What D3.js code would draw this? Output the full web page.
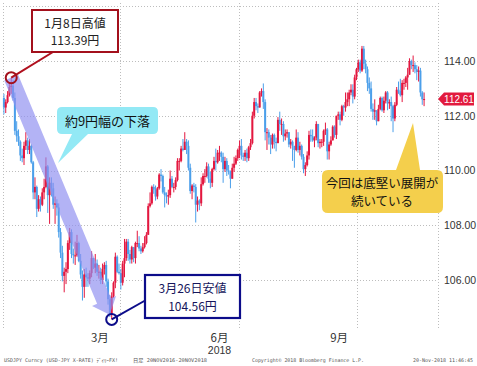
<!DOCTYPE html>
<meta charset="utf-8">
<script src="https://d3js.org/d3.v7.min.js"></script>
<style>
  body { margin: 0; background: #fff; }
</style>
<div id="chart"></div>
<script>
// USD/JPY daily, 2018-01-02 .. 2018-11-20 (trading days)
var firstOpen = 112.65;
var closes = [
  // Jan
  112.30,112.50,112.75,113.05,113.10,112.65,111.45,111.25,111.05,110.55,110.45,110.90,111.10,110.75,110.90,110.30,109.20,109.40,108.60,108.95,108.75,109.20,
  // Feb
  109.40,110.15,109.10,109.55,109.35,108.75,108.80,108.65,107.75,107.00,106.15,106.30,106.40,107.35,107.75,106.95,106.90,106.90,107.35,106.70,
  // Mar
  106.20,105.75,106.20,106.10,106.05,106.25,106.80,106.45,106.60,106.30,106.30,106.00,106.40,106.55,105.95,105.30,104.75,105.40,105.90,106.85,106.30,106.25,
  // Apr
  105.90,106.60,106.80,107.40,106.95,106.75,107.20,106.80,107.35,107.35,107.15,107.05,107.20,107.35,107.65,108.70,108.80,109.40,109.30,109.05,109.35,
  // May
  109.85,109.80,109.20,109.10,109.05,109.10,109.70,109.40,109.40,109.65,110.35,110.35,110.80,110.75,111.05,110.90,110.10,109.25,109.45,109.40,108.75,108.90,108.80,
  // Jun
  109.50,109.80,109.80,110.15,109.70,109.55,110.05,110.35,110.30,110.65,110.65,110.50,110.05,110.35,110.00,109.95,109.70,110.10,110.25,110.45,110.75,
  // Jul
  110.90,110.55,110.50,110.65,110.45,110.85,111.00,112.00,112.50,112.35,112.30,112.85,112.90,112.50,111.40,111.40,111.20,110.95,111.30,111.05,111.00,111.85,
  // Aug
  111.70,111.70,111.25,111.35,111.40,110.95,111.05,110.90,110.75,111.20,110.75,110.90,110.50,110.05,110.20,110.55,111.30,111.25,111.10,111.20,111.70,111.00,111.05,
  // Sep
  111.05,111.45,111.50,110.70,110.95,111.10,111.60,111.30,112.00,112.05,111.85,112.35,112.30,112.50,112.60,112.85,112.95,112.70,113.40,113.70,
  // Oct
  113.95,113.65,114.45,113.90,113.70,113.20,113.00,112.25,112.15,112.20,111.80,112.25,112.65,112.20,112.55,112.85,112.45,112.50,112.35,111.90,112.40,112.95,112.90,
  // Nov
  112.75,113.20,113.20,113.40,113.50,114.00,113.85,113.85,113.70,113.60,113.65,112.85,112.60,112.61
];
var highs = [
  112.80,112.60,112.90,113.20,113.39,113.30,112.85,111.80,111.50,111.10,110.80,111.05,111.40,111.20,111.15,110.95,110.35,109.75,109.45,109.10,109.05,109.35,
  109.70,110.48,110.20,109.75,109.75,109.55,109.05,108.95,108.80,107.90,107.25,106.45,106.65,107.45,107.90,107.85,107.15,107.40,107.65,107.40,
  106.95,106.35,106.40,106.45,106.25,106.35,107.05,106.80,106.95,106.75,106.55,106.45,106.60,106.65,106.70,106.05,105.45,105.55,105.95,107.00,106.90,106.60,
  106.40,106.70,107.50,107.50,107.50,107.10,107.25,107.20,107.40,107.80,107.60,107.25,107.35,107.60,107.75,108.80,109.20,109.45,109.50,109.45,109.40,
  109.90,110.05,109.85,109.40,109.20,109.30,110.00,109.80,109.55,109.75,110.45,110.45,110.90,111.15,111.40,111.15,111.10,110.25,109.50,109.55,109.50,109.05,108.95,
  109.75,109.90,110.05,110.30,110.25,109.95,110.10,110.50,110.80,110.75,110.90,110.70,110.65,110.50,110.45,110.20,110.00,110.25,110.50,110.55,110.80,
  111.10,111.15,110.65,110.75,110.80,110.90,111.15,112.15,112.65,112.65,112.45,112.90,113.00,113.18,112.60,111.55,111.50,111.30,111.35,111.35,111.20,111.95,
  112.15,111.90,111.80,111.50,111.50,111.40,111.15,111.10,110.90,111.50,111.40,111.05,110.95,110.60,110.30,110.70,111.45,111.50,111.50,111.25,111.80,111.70,111.15,
  111.15,111.50,111.75,111.55,111.05,111.25,111.65,111.65,112.00,112.15,112.15,112.40,112.40,112.85,112.85,112.95,113.15,113.15,113.50,113.75,
  114.05,114.05,114.55,114.55,114.05,113.80,113.40,113.25,112.45,112.60,112.20,112.40,112.70,112.70,112.70,112.90,112.90,112.60,112.70,112.40,112.50,113.05,113.25,
  113.35,113.30,113.35,113.45,113.75,114.10,114.05,114.20,113.95,113.85,113.80,113.75,112.90,112.85
];
var lows = [
  112.05,112.10,112.45,112.70,112.80,112.55,111.30,111.05,110.90,110.35,110.30,110.20,110.75,110.60,110.60,110.25,108.95,108.95,108.30,108.50,108.50,108.70,
  108.95,109.35,108.45,108.05,109.05,108.60,108.05,108.35,107.55,106.80,105.95,105.55,105.85,106.25,107.10,106.80,106.60,106.55,106.85,106.65,
  106.05,105.25,105.35,105.75,105.75,105.85,106.10,106.40,106.25,106.15,106.05,105.85,105.85,106.20,105.75,105.10,104.65,104.56,105.35,105.70,106.25,106.20,
  105.65,105.80,106.10,106.70,106.70,106.60,106.60,106.65,106.60,107.20,107.05,106.95,107.00,107.15,107.30,107.65,108.65,108.75,109.15,108.90,108.95,
  109.30,109.60,109.15,108.65,108.80,108.75,109.00,109.35,109.20,109.30,109.60,110.00,110.30,110.70,110.80,110.60,110.00,109.15,108.95,109.20,108.10,108.50,108.55,
  108.70,109.45,109.55,109.75,109.55,109.35,109.40,110.00,110.00,110.25,110.35,110.30,109.55,109.95,109.80,109.85,109.35,109.75,109.95,110.20,110.35,
  110.45,110.40,110.35,110.35,110.30,110.35,110.75,110.95,111.90,112.20,112.10,112.30,112.70,112.25,111.10,110.75,110.95,110.60,110.80,110.80,110.70,111.00,
  111.45,111.30,111.05,111.10,111.20,110.85,110.80,110.35,110.10,110.70,110.65,110.55,110.40,109.90,109.80,110.15,110.40,111.05,111.05,110.85,111.10,110.85,110.80,
  110.85,110.90,111.30,110.40,110.40,110.90,111.10,111.20,111.15,111.85,111.65,111.80,112.00,112.15,112.35,112.35,112.75,112.45,112.60,113.30,
  113.60,113.55,113.60,113.70,113.55,112.90,112.80,112.15,111.85,111.85,111.65,111.80,112.20,112.15,112.10,112.45,112.20,112.25,111.80,111.40,111.80,112.35,112.80,
  112.70,112.50,112.95,113.05,112.95,113.50,113.70,113.60,113.55,113.30,113.25,112.70,112.40,112.35
];

var yTicks = [106, 108, 110, 112, 114];
var yGrid = [106, 108, 110, 112, 114, 116];
var monthLabels = [{month: 2, text: "3月"}, {month: 5, text: "6月"}, {month: 8, text: "9月"}];
var quarterStarts = [3, 6, 9]; // Apr, Jul, Oct

var width = 477, height = 366;
var plot = {left: 3, right: 438, top: 3, bottom: 330};

// trading days (weekdays) of the period
var dates = d3.timeDay.range(new Date(2018, 0, 2), new Date(2018, 10, 21))
  .filter(function(d) { return d.getDay() !== 0 && d.getDay() !== 6; });

var data = dates.map(function(d, i) {
  var o = i === 0 ? firstOpen : closes[i - 1];
  return {date: d, i: i, open: o, close: closes[i], high: highs[i], low: lows[i]};
});

var svg = d3.select("#chart").append("svg")
  .attr("width", width)
  .attr("height", height)
  .style("font-family", "'Liberation Sans', Arial, sans-serif");

svg.append("rect").attr("width", width).attr("height", height).attr("fill", "#fff");

var x = d3.scaleBand()
  .domain(data.map(function(d) { return d.i; }))
  .range([3, 425]);
var step = x.step();
function cx(i) { return x(i) + step / 2; }

var y = d3.scaleLinear()
  .domain([106, 114])
  .range([280, 61]);

// grid
var grid = svg.append("g").attr("stroke", "#bdbdbd").attr("stroke-dasharray", "1,2");
grid.selectAll(".hg").data(yGrid).enter().append("line")
  .attr("x1", plot.left).attr("x2", plot.right)
  .attr("y1", function(d) { return Math.round(y(d)) + 0.5; })
  .attr("y2", function(d) { return Math.round(y(d)) + 0.5; });

function firstIndexOfMonth(m) {
  return data.find(function(d) { return d.date.getMonth() === m; }).i;
}
var vgx = [plot.left].concat(quarterStarts.map(function(m) { return x(firstIndexOfMonth(m)); }), [plot.right]);
grid.selectAll(".vg").data(vgx).enter().append("line")
  .attr("x1", function(d) { return Math.round(d) + 0.5; })
  .attr("x2", function(d) { return Math.round(d) + 0.5; })
  .attr("y1", plot.top).attr("y2", plot.bottom);

// right axis
var yAxis = svg.append("g")
  .attr("transform", "translate(" + (plot.right + 4) + ",0)")
  .call(d3.axisRight(y).tickValues(yTicks).tickSize(0).tickFormat(d3.format(".2f")));
yAxis.select(".domain").remove();
yAxis.selectAll("text")
  .attr("x", 2)
  .style("font-size", "10.5px")
  .style("font-family", "'Liberation Sans', Arial, sans-serif")
  .attr("fill", "#333");

// month labels
monthLabels.forEach(function(m) {
  var idx = data.filter(function(d) { return d.date.getMonth() === m.month; });
  var mx = (x(idx[0].i) + x(idx[idx.length - 1].i) + step) / 2;
  svg.append("text")
    .attr("x", mx).attr("y", 342)
    .attr("text-anchor", "middle")
    .style("font-family", "'Noto Sans CJK JP', sans-serif")
    .style("font-size", "11.5px")
    .attr("fill", "#333")
    .text(m.text);
  if (m.month === 5) {
    svg.append("text")
      .attr("x", mx).attr("y", 354)
      .attr("text-anchor", "middle")
      .style("font-size", "10.5px")
      .attr("fill", "#333")
      .text("2018");
  }
});

// candles
var up = "#e3173f", down = "#4b9fea";
var candles = svg.append("g");
candles.selectAll(".wick").data(data).enter().append("line")
  .attr("x1", function(d) { return cx(d.i); })
  .attr("x2", function(d) { return cx(d.i); })
  .attr("y1", function(d) { return y(Math.max(d.high, d.open, d.close)); })
  .attr("y2", function(d) { return y(Math.min(d.low, d.open, d.close)); })
  .attr("stroke", function(d) { return d.close >= d.open ? up : down; })
  .attr("stroke-width", 1);
candles.selectAll(".body").data(data).enter().append("rect")
  .attr("x", function(d) { return cx(d.i) - 1; })
  .attr("width", 2)
  .attr("y", function(d) { return y(Math.max(d.open, d.close)); })
  .attr("height", function(d) { return Math.max(1, Math.abs(y(d.open) - y(d.close))); })
  .attr("fill", function(d) { return d.close >= d.open ? up : down; });

// points of interest
var hiIdx = 4, loIdx = 59;
var p1 = [cx(hiIdx), y(highs[hiIdx])];
var p2 = [cx(loIdx), y(lows[loIdx])];

// big purple arrow
(function() {
  var dx = p2[0] - p1[0], dy = p2[1] - p1[1];
  var len = Math.sqrt(dx * dx + dy * dy);
  var ux = dx / len, uy = dy / len, nx = -uy, ny = ux;
  var tipD = len - 5, headL = 15, sw = 7.5, hw = 13;
  function pt(d, off) { return [p1[0] + ux * d + nx * off, p1[1] + uy * d + ny * off]; }
  var pts = [pt(0, -sw), pt(tipD - headL, -sw), pt(tipD - headL, -hw), pt(tipD, 0),
             pt(tipD - headL, hw), pt(tipD - headL, sw), pt(0, sw)];
  svg.append("path")
    .attr("d", "M" + pts.map(function(p) { return p.join(","); }).join("L") + "Z")
    .attr("fill", "#8f8ff0")
    .attr("fill-opacity", 0.68);
})();

// cyan callout
svg.append("path")
  .attr("d", "M62,107 H153 Q158,107 158,112 V129 Q158,134 153,134 H88 L58,163 L72,134 H62 Q57,134 57,129 V112 Q57,107 62,107 Z")
  .attr("fill", "#93e9f5");
svg.append("text")
  .attr("x", 107.5).attr("y", 126)
  .attr("text-anchor", "middle")
  .style("font-family", "'Noto Sans CJK JP', sans-serif")
  .style("font-size", "13px")
  .attr("fill", "#111")
  .text("約9円幅の下落");

// yellow callout
svg.append("path")
  .attr("d", "M328,170 H396 L413,123 L420,170 H437 Q443,170 443,176 V207 Q443,213 437,213 H328 Q322,213 322,207 V176 Q322,170 328,170 Z")
  .attr("fill", "#f4cf4c");
var yl = svg.append("text")
  .attr("text-anchor", "middle")
  .style("font-family", "'Noto Sans CJK JP', sans-serif")
  .style("font-size", "12.5px")
  .attr("fill", "#111");
yl.append("tspan").attr("x", 382).attr("y", 188).text("今回は底堅い展開が");
yl.append("tspan").attr("x", 382).attr("y", 206).text("続いている");

// high box
svg.append("line")
  .attr("x1", 53).attr("y1", 52).attr("x2", p1[0]).attr("y2", p1[1])
  .attr("stroke", "#b0101e").attr("stroke-width", 2);
svg.append("rect")
  .attr("x", 32).attr("y", 10).attr("width", 86).attr("height", 42)
  .attr("fill", "#fff").attr("stroke", "#a3101c").attr("stroke-width", 2);
var hl = svg.append("text")
  .attr("text-anchor", "middle")
  .style("font-family", "'Noto Sans CJK JP', sans-serif")
  .style("font-size", "12px")
  .attr("fill", "#222");
hl.append("tspan").attr("x", 75).attr("y", 28).text("1月8日高値");
hl.append("tspan").attr("x", 75).attr("y", 45).text("113.39円");
svg.append("circle")
  .attr("cx", p1[0]).attr("cy", p1[1]).attr("r", 5.5)
  .attr("fill", "none").attr("stroke", "#a3101c").attr("stroke-width", 2);

// low box
svg.append("line")
  .attr("x1", 146).attr("y1", 300).attr("x2", p2[0]).attr("y2", p2[1])
  .attr("stroke", "#0c0c8a").attr("stroke-width", 2);
svg.append("rect")
  .attr("x", 145).attr("y", 275).attr("width", 95).attr("height", 43)
  .attr("fill", "#fff").attr("stroke", "#0c0c8a").attr("stroke-width", 2.2);
var ll = svg.append("text")
  .attr("text-anchor", "middle")
  .style("font-family", "'Noto Sans CJK JP', sans-serif")
  .style("font-size", "12px")
  .attr("fill", "#16165c");
ll.append("tspan").attr("x", 192.5).attr("y", 293).text("3月26日安値");
ll.append("tspan").attr("x", 192.5).attr("y", 311).text("104.56円");
svg.append("circle")
  .attr("cx", p2[0]).attr("cy", p2[1]).attr("r", 5.5)
  .attr("fill", "none").attr("stroke", "#0c0c8a").attr("stroke-width", 2);

// last price tag
var last = closes[closes.length - 1];
var ly = y(last);
svg.append("path")
  .attr("d", "M438," + ly + " L444," + (ly - 6.5) + " H474 V" + (ly + 6.5) + " H444 Z")
  .attr("fill", "#e21a3e");
svg.append("text")
  .attr("x", 459).attr("y", ly + 3.8)
  .attr("text-anchor", "middle")
  .style("font-size", "10px")
  .attr("fill", "#fff")
  .text(d3.format(".2f")(last));

// footer
var foot = [
  {x: 4, w: 114, t: "USDJPY Curncy (USD-JPY X-RATE) ﾃﾞｲﾘｰFX!"},
  {x: 133, w: 74, t: "日足 20NOV2016-20NOV2018"},
  {x: 252, w: 112, t: "Copyright© 2018 Bloomberg Finance L.P."},
  {x: 413, w: 60, t: "20-Nov-2018 11:46:45"}
];
svg.selectAll(".foot").data(foot).enter().append("text")
  .attr("x", function(d) { return d.x; })
  .attr("y", 362)
  .attr("textLength", function(d) { return d.w; })
  .attr("lengthAdjust", "spacingAndGlyphs")
  .style("font-family", "'DejaVu Sans Mono', 'Noto Sans CJK JP', monospace")
  .style("font-size", "5px")
  .attr("fill", "#555")
  .text(function(d) { return d.t; });
</script>
